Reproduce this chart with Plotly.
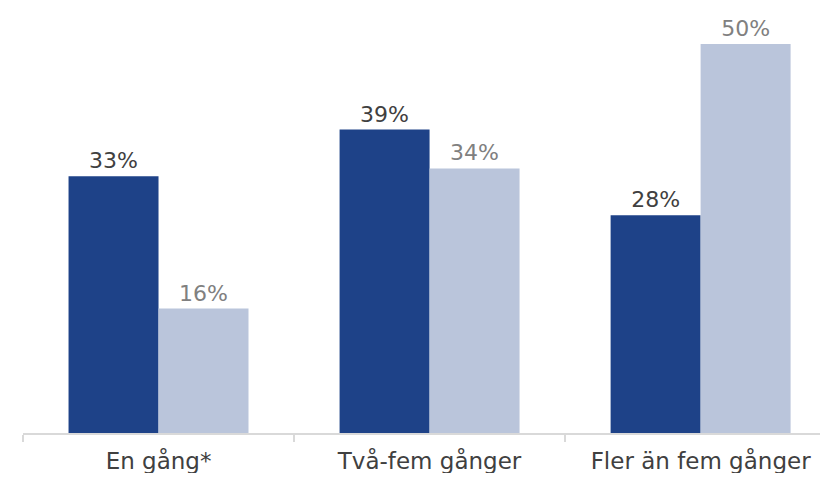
import plotly.graph_objects as go

categories = ["En gång*", "Två-fem gånger", "Fler än fem gånger"]
series_a = [33, 39, 28]
series_b = [16, 34, 50]
labels_a = [f"{v}%" for v in series_a]
labels_b = [f"{v}%" for v in series_b]

font_family = "'DejaVu Sans', sans-serif"

fig = go.Figure()
fig.add_trace(go.Bar(
    x=categories, y=series_a, text=labels_a, textposition="outside",
    marker=dict(color="#1e4288", line=dict(width=0)),
    textfont=dict(size=22, color="#404040", family=font_family),
    cliponaxis=False, name="A",
))
fig.add_trace(go.Bar(
    x=categories, y=series_b, text=labels_b, textposition="outside",
    marker=dict(color="#bac5db", line=dict(width=0)),
    textfont=dict(size=22, color="#808080", family=font_family),
    cliponaxis=False, name="B",
))

fig.update_layout(
    width=820, height=465,
    margin=dict(l=15, r=0, t=12, b=40),
    plot_bgcolor="white", paper_bgcolor="white",
    barmode="group", bargap=0.336, bargroupgap=0,
    showlegend=False,
    font=dict(family=font_family, color="#404040"),
    uniformtext=dict(mode=False),
)
fig.update_xaxes(
    range=[-0.5, 2.47],
    showline=True, linecolor="#d9d9d9", linewidth=2,
    ticks="outside", tickson="boundaries", ticklen=7, tickcolor="#d9d9d9", tickwidth=2,
    tickfont=dict(size=23, color="#404040", family=font_family),
    ticklabelstandoff=6,
    showgrid=False, zeroline=False,
)
fig.update_yaxes(range=[0, 53.08], visible=False, showgrid=False, zeroline=False)

fig.write_html("out.html")
